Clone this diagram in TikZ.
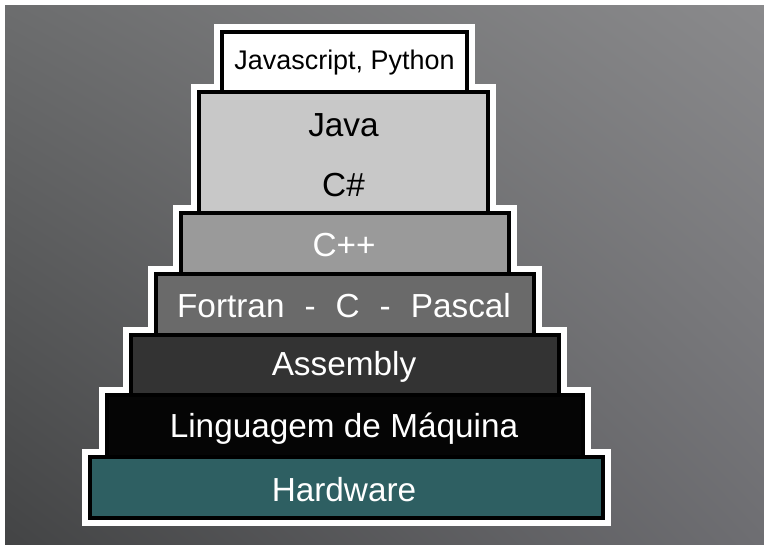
\documentclass[tikz,border=0pt]{standalone}
\usepackage{fontspec}
\setmainfont{Liberation Sans}
\usetikzlibrary{shadings}
\begin{document}
\begin{tikzpicture}[x=0.75pt,y=-0.75pt,
  halo/.style={fill=white,draw=none},
  layer/.style={draw=black,line width=2.6pt},
  lbl/.style={inner sep=0pt,font=\fontsize{25pt}{28pt}\selectfont},
]
\definecolor{bgUL}{HTML}{6C6D6E}
\definecolor{bgUR}{HTML}{8A8A8C}
\definecolor{bgLL}{HTML}{434445}
\definecolor{bgLR}{HTML}{6E6E72}
\definecolor{cJava}{HTML}{C8C8C8}
\definecolor{cCpp}{HTML}{9A9A9A}
\definecolor{cFort}{HTML}{6A6A6A}
\definecolor{cAsm}{HTML}{333333}
\definecolor{cMaq}{HTML}{050505}
\definecolor{cHw}{HTML}{2E5F62}
\useasboundingbox (0,0) rectangle (764,545);
\fill[white] (0,0) rectangle (764,545);
\shade[upper left=bgUL,upper right=bgUR,lower left=bgLL,lower right=bgLR] (5,6) rectangle (764,545);
% white halo
\foreach \l/\t/\r/\b in {222/32/467/92, 199/92/488/213, 181/213/509/274, 156/274/534/335, 131/335/559/395, 107/395/583/457, 90/457/603/518}
  \fill[white] (\l-8,\t-8) rectangle (\r+8,\b+8);
% layers
\draw[layer,fill=white] (222,32) rectangle (467,92);
\draw[layer,fill=cJava] (199,92) rectangle (488,213);
\draw[layer,fill=cCpp] (181,213) rectangle (509,274);
\draw[layer,fill=cFort] (156,274) rectangle (534,335);
\draw[layer,fill=cAsm] (131,335) rectangle (559,395);
\draw[layer,fill=cMaq] (107,395) rectangle (583,457);
\draw[layer,fill=cHw] (90,457) rectangle (603,518);
% labels
\node[lbl,font=\fontsize{20.2pt}{24pt}\selectfont,text=black] (js) at (344.5,63) {Javascript, Python};
\node[lbl,text=black] (java) at (343.5,125) {Java};
\node[lbl,text=black] (cs) at (343.5,185) {C\#};
\node[lbl,text=white] (cpp) at (344,245) {C++};
\node[lbl,text=white] (fort) at (344,306) {Fortran\hspace{0.6em}-\hspace{0.6em}C\hspace{0.6em}-\hspace{0.6em}Pascal};
\node[lbl,text=white] (asm) at (344,367) {Assembly};
\node[lbl,text=white] (maq) at (344,429) {Linguagem de Máquina};
\node[lbl,text=white] (hw) at (344,490) {Hardware};
\end{tikzpicture}
\end{document}
